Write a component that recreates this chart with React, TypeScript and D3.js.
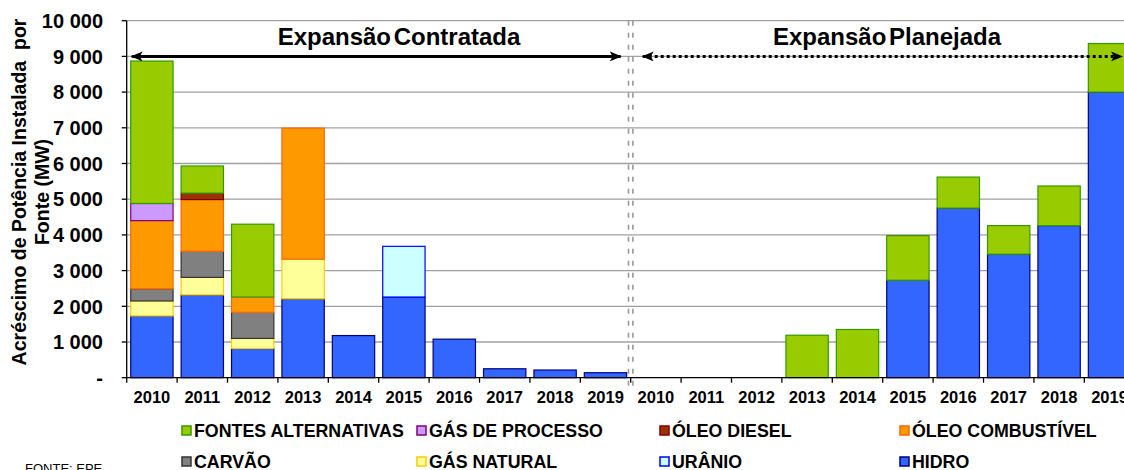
import React from "react";
import * as d3 from "d3";

const YEARS = ["2010", "2011", "2012", "2013", "2014", "2015", "2016", "2017", "2018", "2019"];
const CATEGORIES = [...YEARS.map((y) => "C" + y), ...YEARS.map((y) => "P" + y)];
const TICK_LABELS = [...YEARS, ...YEARS];
const Y_TICKS = [0, 1000, 2000, 3000, 4000, 5000, 6000, 7000, 8000, 9000, 10000];

// stacked bottom -> top
const HIDRO = [1730, 2320, 820, 2210, 1180, 2260, 1080, 250, 215, 140, 0, 0, 0, 0, 0, 2730, 4750, 3460, 4260, 8000];
const URANIO = [0, 0, 0, 0, 0, 1420, 0, 0, 0, 0, 0, 0, 0, 0, 0, 0, 0, 0, 0, 0];
const GAS_NATURAL = [420, 490, 280, 1110, 0, 0, 0, 0, 0, 0, 0, 0, 0, 0, 0, 0, 0, 0, 0, 0];
const CARVAO = [340, 730, 730, 0, 0, 0, 0, 0, 0, 0, 0, 0, 0, 0, 0, 0, 0, 0, 0, 0];
const OLEO_COMBUSTIVEL = [1910, 1450, 430, 3670, 0, 0, 0, 0, 0, 0, 0, 0, 0, 0, 0, 0, 0, 0, 0, 0];
const OLEO_DIESEL = [0, 180, 0, 0, 0, 0, 0, 0, 0, 0, 0, 0, 0, 0, 0, 0, 0, 0, 0, 0];
const GAS_PROCESSO = [480, 0, 0, 0, 0, 0, 0, 0, 0, 0, 0, 0, 0, 0, 0, 0, 0, 0, 0, 0];
const ALTERNATIVAS = [3990, 760, 2040, 0, 0, 0, 0, 0, 0, 0, 0, 0, 0, 1190, 1350, 1250, 870, 800, 1110, 1360];

const SERIES = [
    { key: "HIDRO", values: HIDRO, fill: "#3366FF", stroke: "#000080" },
    { key: "URÂNIO", values: URANIO, fill: "#CCFFFF", stroke: "#0000FF" },
    { key: "GÁS NATURAL", values: GAS_NATURAL, fill: "#FFFF99", stroke: "#FFCC00" },
    { key: "CARVÃO", values: CARVAO, fill: "#808080", stroke: "#333333" },
    { key: "ÓLEO COMBUSTÍVEL", values: OLEO_COMBUSTIVEL, fill: "#FF9900", stroke: "#FF6600" },
    { key: "ÓLEO DIESEL", values: OLEO_DIESEL, fill: "#993300", stroke: "#800000" },
    { key: "GÁS DE PROCESSO", values: GAS_PROCESSO, fill: "#CC99FF", stroke: "#800080" },
    { key: "FONTES ALTERNATIVAS", values: ALTERNATIVAS, fill: "#99CC00", stroke: "#339900" },
];

const LEGEND_ORDER = [
    "FONTES ALTERNATIVAS", "GÁS DE PROCESSO", "ÓLEO DIESEL", "ÓLEO COMBUSTÍVEL",
    "CARVÃO", "GÁS NATURAL", "URÂNIO", "HIDRO",
];

const WIDTH = 1124;
const HEIGHT = 470;
const FONT = "'Liberation Sans', Arial, sans-serif";

export default function App() {
    const margin = { top: 20.7, left: 126.7, bottom: 377.7 };
    const step = 50.4;

    const x = d3.scaleBand<string>()
        .domain(CATEGORIES)
        .range([margin.left, margin.left + step * CATEGORIES.length])
        .paddingInner(0.16)
        .paddingOuter(0.08);

    const y = d3.scaleLinear([0, 10000], [margin.bottom, margin.top]);

    const rows = CATEGORIES.map((c, i) => {
        const row: Record<string, any> = { cat: c };
        SERIES.forEach((s) => { row[s.key] = s.values[i]; });
        return row;
    });
    const stacked = d3.stack<any>().keys(SERIES.map((s) => s.key))(rows);

    const boundary = (i: number) => margin.left + i * step;
    const divX = boundary(10);
    const arrowY = y(9000);
    const fmt = (v: number) => v === 0 ? "-" : d3.format(",")(v).replace(",", " ");

    const legendCols = [182, 417, 660, 900];
    const legendRows = [431, 462];

    return <svg width={WIDTH} height={HEIGHT}
        style={{ position: "absolute", left: 0, top: 0, background: "#fff", fontFamily: FONT }}>
        <defs>
            <marker id="ah" viewBox="0 0 12 10" refX="11" refY="5" markerWidth="12" markerHeight="10"
                markerUnits="userSpaceOnUse" orient="auto-start-reverse">
                <path d="M0,0 L12,5 L0,10 L3,5 Z" fill="#000" />
            </marker>
        </defs>

        {/* gridlines */}
        <g>
            {Y_TICKS.filter((t) => t > 0).map((t) => (
                <line key={t} x1={margin.left} x2={WIDTH} y1={y(t)} y2={y(t)}
                    stroke="#A0A0A0" strokeWidth={1.3} />
            ))}
        </g>

        {/* bars */}
        <g>
            {stacked.map((layer, li) => (
                <g key={layer.key} fill={SERIES[li].fill} stroke={SERIES[li].stroke} strokeWidth={1.2}>
                    {layer.map((d, i) => d[1] - d[0] > 0 ? (
                        <rect key={i} x={x(CATEGORIES[i])!} width={x.bandwidth()}
                            y={y(d[1])} height={y(d[0]) - y(d[1])} />
                    ) : null)}
                </g>
            ))}
        </g>

        {/* divider */}
        <g stroke="#999" strokeWidth={1.6} strokeDasharray="5 7">
            <line x1={divX - 2.2} x2={divX - 2.2} y1={margin.top} y2={margin.bottom + 10} />
            <line x1={divX + 2.2} x2={divX + 2.2} y1={margin.top} y2={margin.bottom + 10} />
        </g>

        {/* axes */}
        <g stroke="#000" strokeWidth={1.3}>
            <line x1={margin.left} x2={margin.left} y1={margin.top} y2={margin.bottom} />
            <line x1={margin.left} x2={WIDTH} y1={margin.bottom} y2={margin.bottom} />
            {Y_TICKS.map((t) => (
                <line key={t} x1={margin.left - 5} x2={margin.left} y1={y(t)} y2={y(t)} />
            ))}
            {d3.range(CATEGORIES.length + 1).map((i) => (
                <line key={i} x1={boundary(i)} x2={boundary(i)} y1={margin.bottom} y2={margin.bottom + 5} />
            ))}
        </g>

        {/* y tick labels */}
        <g fontSize={20} fontWeight="bold" textAnchor="end">
            {Y_TICKS.map((t) => (
                <text key={t} x={103} y={y(t)} dy="0.36em">{fmt(t)}</text>
            ))}
        </g>

        {/* x tick labels */}
        <g fontSize={16.5} fontWeight="bold" textAnchor="middle">
            {CATEGORIES.map((c, i) => (
                <text key={c} x={x(c)! + x.bandwidth() / 2} y={403}>{TICK_LABELS[i]}</text>
            ))}
        </g>

        {/* axis title */}
        <g fontSize={19.5} fontWeight="bold" textAnchor="middle">
            <text transform="translate(26,192) rotate(-90)" xmlSpace="preserve">Acréscimo de Potência Instalada  por</text>
            <text transform="translate(49,192) rotate(-90)">Fonte (MW)</text>
        </g>

        {/* expansion annotations */}
        <g fontSize={24} fontWeight="bold" textAnchor="middle" wordSpacing={-4}>
            <text x={399} y={45}>Expansão Contratada</text>
            <text x={887} y={45}>Expansão Planejada</text>
        </g>
        <line x1={boundary(0) + 5} x2={divX - 10} y1={arrowY} y2={arrowY}
            stroke="#000" strokeWidth={3} markerStart="url(#ah)" markerEnd="url(#ah)" />
        <line x1={divX + 12} x2={1122} y1={arrowY} y2={arrowY}
            stroke="#000" strokeWidth={3} strokeDasharray="3 3" markerStart="url(#ah)" markerEnd="url(#ah)" />

        {/* legend */}
        <g fontSize={17.8} fontWeight="bold">
            {LEGEND_ORDER.map((k, i) => {
                const s = SERIES.find((d) => d.key === k)!;
                const lx = legendCols[i % 4];
                const ly = legendRows[Math.floor(i / 4)];
                return <g key={k}>
                    <rect x={lx} y={ly - 5} width={9} height={9} fill={s.fill} stroke={s.stroke} strokeWidth={1.5} />
                    <text x={lx + 12} y={ly} dy="0.36em">{k}</text>
                </g>;
            })}
        </g>

        <text x={25} y={473} fontSize={13}>FONTE: EPE</text>
    </svg>;
}
